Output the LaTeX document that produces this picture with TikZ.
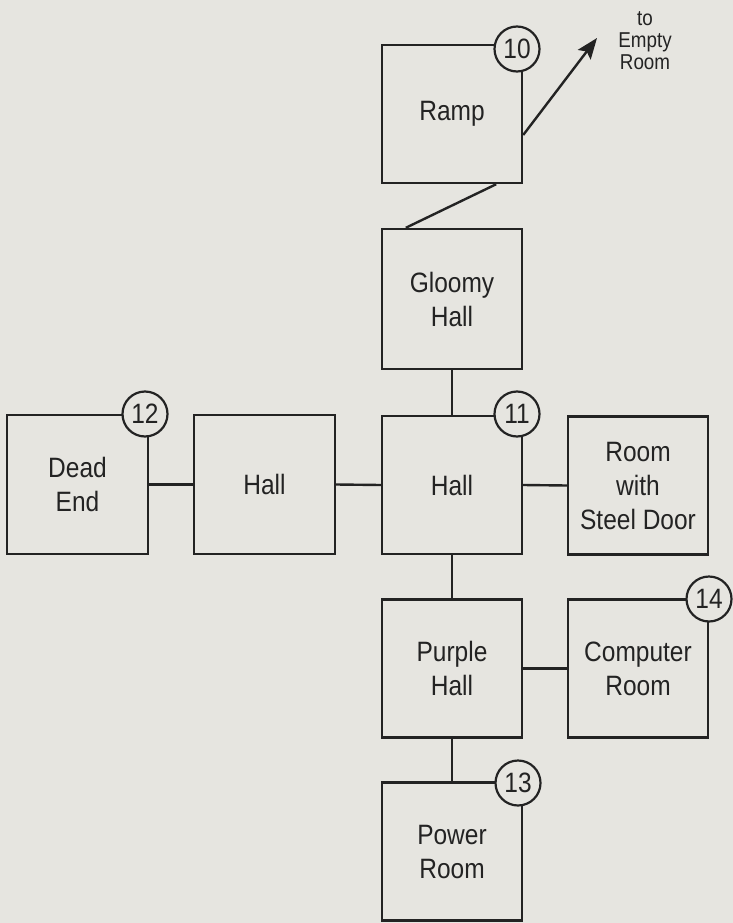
\documentclass[tikz,border=0pt]{standalone}
\usepackage{fontspec}
\setmainfont[FakeStretch=0.875]{Liberation Sans}
\usetikzlibrary{arrows.meta}
\definecolor{bg}{HTML}{E6E5E0}
\definecolor{ink}{HTML}{232323}
\begin{document}
\begin{tikzpicture}[x=1pt,y=-1pt,
  room/.style={draw=ink, line width=2.4pt, minimum width=140pt, minimum height=138pt,
    inner sep=0pt, align=center, text=ink, font=\fontsize{28}{34}\selectfont},
  tag/.style={circle, draw=ink, line width=2.2pt, fill=bg, minimum size=45pt,
    inner sep=0pt, text=ink, font=\fontsize{28}{28}\selectfont},
  link/.style={draw=ink, line width=2.4pt},
  note/.style={align=center, text=ink, inner sep=0pt, font=\fontsize{21.5}{22}\selectfont}]
\fill[bg] (0,0) rectangle (733,923);
\useasboundingbox (0,0) rectangle (733,923);

\node[room] (ramp) at (452,114) {Ramp};
\node[room, minimum height=140pt] (gloomy) at (452,299) {Gloomy\\Hall};
\node[room] (hallc) at (452,485) {Hall};
\node[room, minimum width=141pt, minimum height=139pt] (deadend) at (77.5,484.5) {Dead\\End};
\node[room, minimum width=141pt, minimum height=139pt] (hallw) at (264.5,484.5) {Hall};
\node[room] (steel) at (638,485.5) {Room\\with\\Steel Door};
\node[room] (purple) at (452,668.5) {Purple\\Hall};
\node[room] (computer) at (638,668.5) {Computer\\Room};
\node[room] (power) at (452,851.5) {Power\\Room};

\node[note] (empty) at (645,41) {to\\Empty\\Room};
\coordinate (arrowtip) at (597,38);

\draw[link] (gloomy.south) -- (hallc.north);
\draw[link] (hallc.south) -- (purple.north);
\draw[link] (purple.south) -- (power.north);
\draw[link] (deadend.east) -- (hallw.west);
\draw[link] (hallw.east) -- (hallc.west);
\draw[link] (hallc.east) -- (steel.west);
\draw[link] (purple.east) -- (computer.west);
\draw[link] ([xshift=-27pt]ramp.south east) -- ([xshift=25pt]gloomy.north west);
\draw[link, -{Stealth[length=21pt, width=16pt, inset=4pt]}] ([yshift=-21pt]ramp.east) -- (arrowtip);

\node[tag] (t10) at (517,49) {10};
\node[tag] (t11) at (517,414) {11};
\node[tag] (t12) at (145,414) {12};
\node[tag] (t14) at (709,599) {14};
\node[tag] (t13) at (518,783) {13};
\end{tikzpicture}
\end{document}
